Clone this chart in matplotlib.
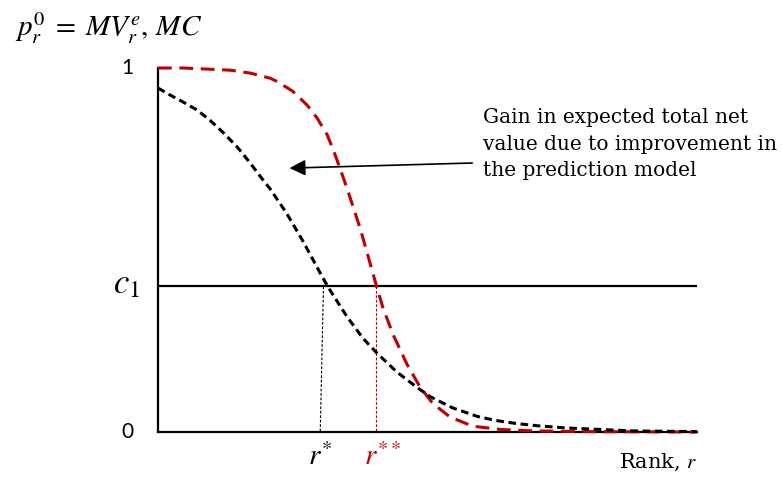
import matplotlib.pyplot as plt

plt.rcParams['mathtext.fontset'] = 'stix'
plt.rcParams['font.family'] = ['DejaVu Serif']

# Curves (rank 0-100, value 0-1)
rank_base = [0, 2.2, 4.6, 7.2, 9.6, 12.0, 14.7, 17.1, 19.5, 20.8, 23.9, 26.9,
             30.6, 31.9, 35.1, 38.0, 40.6, 44.3, 48.1, 50.5, 54.7, 59.2, 62.5,
             66.6, 70.5, 75.9, 88.1, 100]
value_base = [0.945, 0.926, 0.907, 0.885, 0.857, 0.824, 0.783, 0.739, 0.692,
              0.668, 0.600, 0.524, 0.423, 0.390, 0.316, 0.258, 0.217, 0.165,
              0.122, 0.097, 0.066, 0.043, 0.032, 0.023, 0.017, 0.011, 0.003, 0.001]

rank_improved = [0, 4.6, 9.1, 13.4, 17.1, 20.8, 22.1, 25.0, 27.6, 29.5, 31.4,
                 32.5, 33.8, 35.1, 37.5, 40.6, 41.7, 43.6, 46.2, 48.6,
                 51.0, 54.2, 58.4, 63.5, 69.6, 80.0, 100]
value_improved = [1.0, 1.0, 0.997, 0.994, 0.986, 0.972, 0.963, 0.936, 0.899,
                  0.863, 0.816, 0.776, 0.723, 0.668, 0.560, 0.398, 0.343,
                  0.268, 0.186, 0.124, 0.078, 0.041, 0.016, 0.007, 0.003, 0.001, 0.0]

c1 = 0.40
r_star = 30.4
r_star2 = 40.4

fig = plt.figure(figsize=(7.83, 4.78), dpi=100)
ax = fig.add_axes([158 / 783, 46 / 478, 539 / 783, 364 / 478])
ax.set_xlim(0, 100)
ax.set_ylim(0, 1)

ax.plot(rank_improved, value_improved, color='#c00000', lw=2.2,
        dashes=(4.5, 2.5), clip_on=False, zorder=3)
ax.plot(rank_base, value_base, color='black', lw=2.2,
        dashes=(2.5, 1.5), clip_on=False, zorder=4)

ax.axhline(c1, color='black', lw=1.6)
ax.plot([r_star + 0.3, r_star - 0.3], [c1, 0], color='black', lw=0.8, dashes=(2.5, 1.5))
ax.plot([r_star2, r_star2], [c1, 0], color='#c00000', lw=0.8, dashes=(2.5, 1.5))

for side in ['top', 'right']:
    ax.spines[side].set_visible(False)
for side in ['left', 'bottom']:
    ax.spines[side].set_linewidth(1.6)
ax.set_xticks([])
ax.set_yticks([])

# Axis labels
ax.text(-5.6, 1.0, '1', ha='center', va='center', fontsize=15, family='Lato')
ax.text(-5.6, 0.0, '0', ha='center', va='center', fontsize=15, family='Lato')
ax.text(-3.3, c1 + 0.01, r'$c_1$', ha='right', va='center', fontsize=25)
ax.text(r_star - 0.3, -0.03, r'$r^{*}$', ha='center', va='top', fontsize=21)
ax.text(r_star2 + 1.2, -0.03, r'$r^{**}$', ha='center', va='top', fontsize=21,
        color='#c00000')
ax.text(100, -0.055, r'Rank, $r$', ha='right', va='top', fontsize=15)
fig.text(15 / 783, 1 - 28 / 478, r'$p_r^0\;=\;MV_r^e,\,MC$', ha='left', va='center',
         fontsize=21)

# Annotation with arrow
ax.annotate('', xy=(24.4, 0.725), xytext=(58.3, 0.739),
            arrowprops=dict(arrowstyle='-|>', color='black', lw=1.2,
                            mutation_scale=24, shrinkA=0, shrinkB=0))
ax.text(60.3, 0.79, 'Gain in expected total net\nvalue due to improvement in\nthe prediction model',
        ha='left', va='center', fontsize=14.5, linespacing=1.5)

fig.savefig('out.png', dpi=100)
